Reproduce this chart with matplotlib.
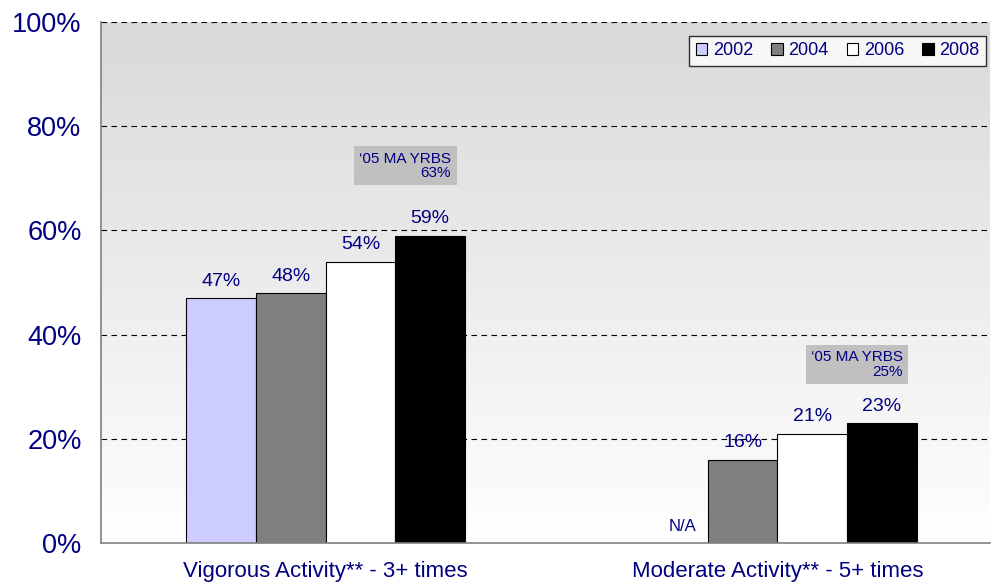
import numpy as np
import matplotlib.pyplot as plt
from matplotlib.patches import Patch
from matplotlib.colors import LinearSegmentedColormap

# data
categories = ["Vigorous Activity** - 3+ times", "Moderate Activity** - 5+ times"]
years = ["2002", "2004", "2006", "2008"]
values = {
    "2002": [47, None],
    "2004": [48, 16],
    "2006": [54, 21],
    "2008": [59, 23],
}
yrbs_labels = ["\u201805 MA YRBS\n63%", "\u201805 MA YRBS\n25%"]
yrbs_y = [72.4, 34.3]  # vertical centre of the grey boxes
bar_colors = ["#ccccff", "#808080", "#ffffff", "#000000"]
yticks = [0, 20, 40, 60, 80, 100]

navy = "#000080"
plt.rcParams["font.family"] = ["Liberation Sans", "DejaVu Sans"]

fig = plt.figure(figsize=(9.92, 5.86), dpi=100)
ax = fig.add_axes([0.1018, 0.0734, 0.896, 0.889])

xlim = (-0.497, 1.47)

# grey-to-white background gradient
bg = LinearSegmentedColormap.from_list("bg", ["#ffffff", "#d9d9d9"])
grad = np.linspace(0, 1, 256).reshape(-1, 1)
ax.imshow(grad, extent=[xlim[0], xlim[1], 0, 100], aspect="auto",
          cmap=bg, origin="lower", zorder=0)
ax.set_xlim(xlim)
ax.set_ylim(0, 100)

for y in yticks[1:]:
    ax.axhline(y, color="black", linestyle=(0, (5, 4)), linewidth=0.8, zorder=1)

width = 0.154
x = np.arange(len(categories))
for i, (yr, col) in enumerate(zip(years, bar_colors)):
    offs = (i - 1.5) * width
    for j, v in enumerate(values[yr]):
        if v is None:
            ax.text(x[j] + offs + 0.02, 1.8, "N/A", ha="center", va="bottom",
                    color=navy, fontsize=12, zorder=4)
            continue
        ax.bar(x[j] + offs, v, width, color=col, edgecolor="black",
               linewidth=0.8, zorder=2)
        ax.annotate(f"{v}%", (x[j] + offs, v), xytext=(0, 6),
                    textcoords="offset points", ha="center", va="bottom",
                    color=navy, fontsize=14, zorder=4)

# '05 MA YRBS boxes above the 2008 bars
for j, lab in enumerate(yrbs_labels):
    right = x[j] + 1.5 * width + width / 2 - 0.03
    ax.text(right, yrbs_y[j], lab, ha="right", va="center",
            color=navy, fontsize=11, linespacing=1.05, zorder=4,
            bbox=dict(boxstyle="square,pad=0.35", facecolor="#c0c0c0",
                      edgecolor="none"))

ax.set_yticks(yticks)
ax.set_yticklabels([f"{t}%" for t in yticks], color=navy, fontsize=19.5)
ax.set_xticks(x)
ax.set_xticklabels(categories, color=navy, fontsize=16)
ax.tick_params(axis="y", length=0, pad=14)
ax.tick_params(axis="x", length=0, pad=13)

for s in ["top", "right"]:
    ax.spines[s].set_visible(False)
for s in ["left", "bottom"]:
    ax.spines[s].set_color("#808080")
    ax.spines[s].set_linewidth(1.2)
    ax.spines[s].set_zorder(3)

handles = [Patch(facecolor=c, edgecolor="black", linewidth=0.8) for c in bar_colors]
leg = ax.legend(handles, years, loc="upper right", ncol=4, fontsize=13,
                frameon=True, fancybox=False, edgecolor="black",
                handlelength=0.65, handleheight=0.65, handletextpad=0.3,
                columnspacing=1.0, borderpad=0.35, borderaxespad=0,
                bbox_to_anchor=(0.9955, 0.973))
leg.get_frame().set_linewidth(1.0)
for t in leg.get_texts():
    t.set_color(navy)

fig.savefig("out.png", dpi=100)
